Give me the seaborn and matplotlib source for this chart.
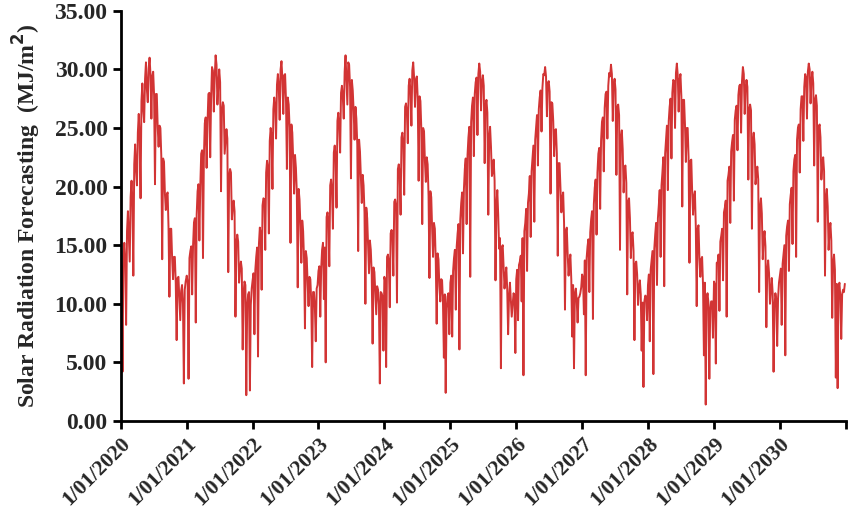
import pandas as pd
import numpy as np
import matplotlib.pyplot as plt
import seaborn as sns

# values, one every 10 days from 1 Jan of each year
y2020 = [13.8, 4.2, 15.2, 8.2, 17.9, 13.6, 20.5, 12.4, 23.6, 20.1, 26.2, 19.0, 28.8, 25.5, 30.6, 27.2, 31.0, 25.8, 29.8,
         20.2, 27.9, 23.4, 25.0, 13.8, 22.1, 18.0, 19.5, 10.6, 16.4, 12.1, 14.0, 6.9, 12.3, 8.6, 11.6, 3.2, 11.9]
y2021 = [12.4, 3.6, 14.5, 10.8, 16.9, 8.4, 19.6, 15.4, 22.8, 13.9, 25.4, 21.6, 27.9, 22.5, 30.2, 26.4, 31.2, 27.0, 30.0,
         19.6, 27.2, 22.8, 24.9, 12.7, 21.5, 17.2, 18.8, 8.9, 15.9, 11.8, 13.6, 6.1, 11.9, 2.2, 10.8, 2.6, 11.3]
y2022 = [12.0, 7.4, 14.0, 5.5, 16.5, 11.2, 19.0, 14.6, 22.2, 16.0, 25.0, 19.8, 27.6, 24.1, 29.6, 25.7, 30.7, 26.2, 29.6,
         21.5, 27.0, 15.2, 24.6, 19.4, 21.6, 11.4, 18.9, 13.5, 16.2, 7.9, 13.9, 9.8, 12.1, 4.6, 11.0, 6.8, 11.6]
y2023 = [12.8, 8.9, 14.6, 10.4, 5.0, 17.8, 13.2, 20.6, 16.4, 23.5, 18.2, 26.3, 22.9, 28.6, 25.8, 31.2, 27.0, 30.4, 20.7,
         28.2, 24.0, 25.8, 14.5, 23.0, 18.6, 20.1, 10.0, 17.3, 12.6, 14.6, 6.6, 12.7, 9.1, 11.2, 3.2, 10.9, 6.0]
y2024 = [12.3, 4.6, 14.2, 9.7, 16.3, 12.4, 18.9, 10.1, 21.9, 17.6, 24.6, 19.3, 27.1, 23.7, 29.2, 25.2, 30.6, 26.8, 29.4,
         20.5, 27.3, 16.8, 24.7, 20.4, 21.9, 12.2, 19.1, 14.0, 16.4, 8.3, 13.8, 10.2, 12.0, 5.4, 2.4, 10.6, 7.4]
y2025 = [11.8, 7.2, 13.9, 9.5, 16.0, 6.1, 18.6, 14.3, 21.5, 16.8, 24.2, 12.3, 26.9, 22.6, 28.9, 24.4, 30.5, 26.5, 29.5,
         22.0, 27.4, 17.6, 25.1, 20.9, 22.3, 12.0, 19.7, 14.7, 4.5, 15.0, 11.3, 13.1, 7.4, 11.8, 8.9, 10.9, 5.8]
y2026 = [12.1, 8.6, 13.6, 10.2, 3.9, 16.9, 12.8, 19.4, 15.7, 22.4, 17.0, 25.1, 21.8, 27.6, 24.7, 29.6, 30.2, 26.0, 29.0,
         19.4, 27.1, 22.6, 24.9, 14.1, 22.0, 17.8, 19.5, 9.5, 16.5, 12.4, 14.2, 7.2, 4.5, 11.3, 8.4, 10.6, 11.4]
y2027 = [12.5, 9.1, 3.9, 14.9, 11.0, 17.2, 8.7, 19.9, 15.9, 22.8, 18.1, 25.5, 21.3, 27.9, 24.1, 29.7, 30.4, 25.6, 29.2,
         21.0, 27.0, 14.6, 24.8, 19.5, 21.8, 10.8, 19.0, 13.9, 16.1, 6.9, 13.6, 9.9, 12.0, 6.0, 2.9, 10.7, 8.6]
y2028 = [11.6, 6.8, 13.7, 4.0, 15.9, 11.6, 18.4, 14.0, 21.2, 11.5, 24.0, 19.7, 26.8, 22.4, 29.1, 25.0, 30.5, 26.4, 29.6,
         18.3, 27.4, 22.1, 25.0, 13.5, 22.3, 17.6, 19.6, 9.8, 16.7, 12.3, 14.0, 5.6, 1.4, 10.9, 3.6, 10.2, 7.1]
y2029 = [11.9, 4.9, 13.5, 9.4, 15.8, 12.0, 18.2, 8.9, 21.0, 16.9, 23.8, 18.8, 26.5, 23.1, 28.6, 24.6, 30.2, 26.2, 29.1,
         20.6, 27.0, 16.4, 24.6, 20.2, 21.7, 11.0, 19.0, 13.8, 16.2, 8.0, 13.7, 10.0, 12.2, 4.2, 10.9, 6.4, 11.8]
y2030 = [12.4, 8.2, 14.2, 5.6, 16.6, 12.8, 19.3, 15.1, 22.3, 14.0, 25.0, 21.2, 27.7, 23.9, 29.6, 25.8, 30.5, 27.1, 29.8,
         21.8, 27.8, 17.0, 25.3, 20.6, 22.5, 12.4, 19.8, 14.6, 16.9, 8.8, 14.2, 3.7, 2.8, 11.8, 7.0, 11.2, 11.7]

# in-between values, one every 10 days from 6 Jan of each year
m2020 = [12.9, 14.1, 13.6, 16.2, 15.8, 19.1, 18.7, 21.9, 21.4, 24.6, 24.1, 27.3, 26.5, 29.2, 28.3, 30.1, 29.6, 29.4,
         27.8, 27.9, 25.1, 25.2, 22.6, 22.4, 19.4, 19.3, 16.5, 16.4, 13.9, 14.0, 11.8, 12.2, 10.5, 11.1, 10.0, 11.2]
m2021 = [11.8, 13.9, 14.9, 15.0, 17.3, 17.6, 20.2, 20.0, 23.1, 22.5, 25.9, 25.4, 28.0, 27.5, 29.9, 29.3, 30.4, 28.6,
         28.9, 26.5, 26.9, 23.8, 24.1, 20.9, 21.2, 18.1, 17.9, 15.2, 15.3, 12.9, 13.0, 10.9, 11.6, 9.8, 11.0, 9.9]
m2022 = [12.6, 12.9, 14.8, 15.1, 16.0, 18.4, 18.9, 21.2, 21.6, 23.9, 24.3, 26.6, 26.8, 28.7, 28.5, 30.0, 29.2, 29.5,
         27.4, 27.6, 25.0, 25.3, 22.3, 22.7, 19.5, 19.8, 16.6, 17.1, 13.8, 14.5, 11.7, 12.3, 10.2, 11.0, 9.7, 11.3]
m2023 = [13.2, 13.0, 15.2, 14.8, 17.4, 17.0, 20.1, 19.6, 22.9, 22.4, 25.6, 25.1, 28.0, 27.6, 29.8, 29.2, 30.6, 28.5,
         29.1, 26.4, 26.8, 23.6, 24.0, 20.7, 21.0, 17.8, 18.2, 15.0, 15.4, 12.6, 13.1, 10.8, 11.5, 9.9, 11.0, 10.6]
m2024 = [11.9, 14.0, 13.5, 16.0, 15.7, 18.7, 18.3, 21.5, 21.0, 24.2, 23.6, 26.8, 26.3, 28.6, 28.0, 29.9, 29.3, 29.1,
         27.5, 27.7, 24.9, 25.0, 22.1, 22.5, 19.2, 19.6, 16.3, 16.9, 13.6, 14.3, 11.5, 12.1, 10.0, 10.8, 9.6, 10.9]
m2025 = [12.4, 12.8, 14.6, 14.9, 16.8, 17.2, 19.5, 19.8, 22.4, 22.7, 25.1, 25.5, 27.6, 27.9, 29.3, 29.6, 29.8, 28.9,
         28.6, 26.9, 26.3, 24.2, 23.4, 21.3, 20.5, 18.4, 17.6, 15.6, 14.8, 13.1, 12.4, 11.2, 10.6, 10.3, 9.9, 10.7]
m2026 = [12.9, 13.3, 14.1, 15.6, 16.2, 18.1, 18.6, 20.9, 21.3, 23.5, 24.0, 26.1, 26.6, 28.2, 28.4, 29.5, 29.4, 28.8,
         28.1, 27.2, 25.6, 24.8, 22.8, 22.0, 19.8, 19.0, 16.9, 16.2, 14.2, 13.6, 12.1, 11.6, 10.9, 10.3, 10.5, 10.9]
m2027 = [12.2, 13.7, 13.9, 15.5, 16.1, 17.9, 18.5, 20.6, 21.2, 23.3, 23.9, 25.9, 26.7, 28.1, 28.6, 29.4, 29.6, 28.7,
         28.3, 26.8, 26.1, 24.3, 23.2, 21.6, 20.3, 18.7, 17.3, 15.9, 14.5, 13.4, 12.5, 11.4, 10.8, 10.1, 10.2, 10.6]
m2028 = [12.5, 12.9, 14.5, 14.7, 16.9, 17.3, 19.7, 20.1, 22.5, 22.8, 25.2, 25.6, 27.5, 28.0, 29.0, 29.7, 29.5, 29.1,
         27.7, 27.4, 25.3, 25.0, 22.5, 22.2, 19.5, 19.2, 16.6, 16.4, 13.9, 13.8, 11.6, 11.8, 10.4, 10.1, 9.5, 10.2]
m2029 = [11.6, 13.5, 14.2, 15.3, 16.4, 17.8, 18.8, 20.5, 21.7, 23.0, 24.4, 25.7, 26.9, 27.8, 28.7, 29.0, 29.6, 28.4,
         28.5, 26.6, 26.5, 24.0, 23.6, 21.1, 20.6, 18.2, 17.7, 15.4, 14.9, 12.8, 12.6, 11.0, 10.9, 9.8, 10.4, 10.5]
m2030 = [13.0, 13.4, 15.0, 15.8, 17.1, 18.5, 19.9, 21.3, 22.7, 24.0, 25.3, 26.6, 27.7, 28.5, 29.3, 29.8, 30.0, 29.0,
         28.8, 27.4, 26.9, 25.0, 24.2, 22.0, 21.3, 19.1, 18.3, 16.2, 15.4, 13.5, 12.9, 11.7, 11.4, 10.6, 10.8, 11.0]

years = [2020, 2021, 2022, 2023, 2024, 2025, 2026, 2027, 2028, 2029, 2030]
series = [y2020, y2021, y2022, y2023, y2024, y2025, y2026, y2027, y2028, y2029, y2030]
between = [m2020, m2021, m2022, m2023, m2024, m2025, m2026, m2027, m2028, m2029, m2030]

frames = []
for yr, vals, mids in zip(years, series, between):
    frames.append(pd.DataFrame({'date': pd.date_range(f'{yr}-01-01', periods=len(vals), freq='10D'),
                                'value': vals}))
    frames.append(pd.DataFrame({'date': pd.date_range(f'{yr}-01-06', periods=len(mids), freq='10D'),
                                'value': mids}))
df = pd.concat(frames, ignore_index=True).sort_values('date')

sns.set_style('ticks')
plt.rcParams['font.family'] = ['Liberation Serif', 'DejaVu Serif']
plt.rcParams['font.weight'] = 'bold'

fig = plt.figure(figsize=(8.5, 5.14), dpi=100)
ax = fig.add_axes([0.142, 0.181, 0.853, 0.798])

sns.lineplot(data=df, x='date', y='value', ax=ax, color='#d23434', linewidth=1.4)

ax.set_ylim(0, 35)
ax.set_yticks(np.arange(0, 36, 5))
ax.yaxis.set_major_formatter(plt.FormatStrFormatter('%.2f'))

ticks = [pd.Timestamp(f'{y}-01-01') for y in range(2020, 2032)]
ax.set_xlim(ticks[0], ticks[-1])
ax.set_xticks(ticks)
ax.set_xticklabels([f'1/01/{y}' for y in range(2020, 2031)] + [''])
plt.setp(ax.get_xticklabels(), rotation=45, ha='right', rotation_mode='anchor')

ax.tick_params(axis='y', labelsize=17, width=2, length=6, direction='out', color='black')
ax.tick_params(axis='x', labelsize=15.5, width=2, length=6, pad=3, direction='out', color='black')
for lab in ax.get_xticklabels() + ax.get_yticklabels():
    lab.set_fontweight('bold')

ax.set_xlabel('')
ax.set_ylabel('Solar Radiation Forecasting  (MJ/m$^\\mathbf{2}$)', fontsize=17, fontweight='bold', labelpad=8)

for s in ['top', 'right']:
    ax.spines[s].set_visible(False)
for s in ['left', 'bottom']:
    ax.spines[s].set_linewidth(2)
    ax.spines[s].set_color('black')

fig.savefig('out.png', dpi=100)
